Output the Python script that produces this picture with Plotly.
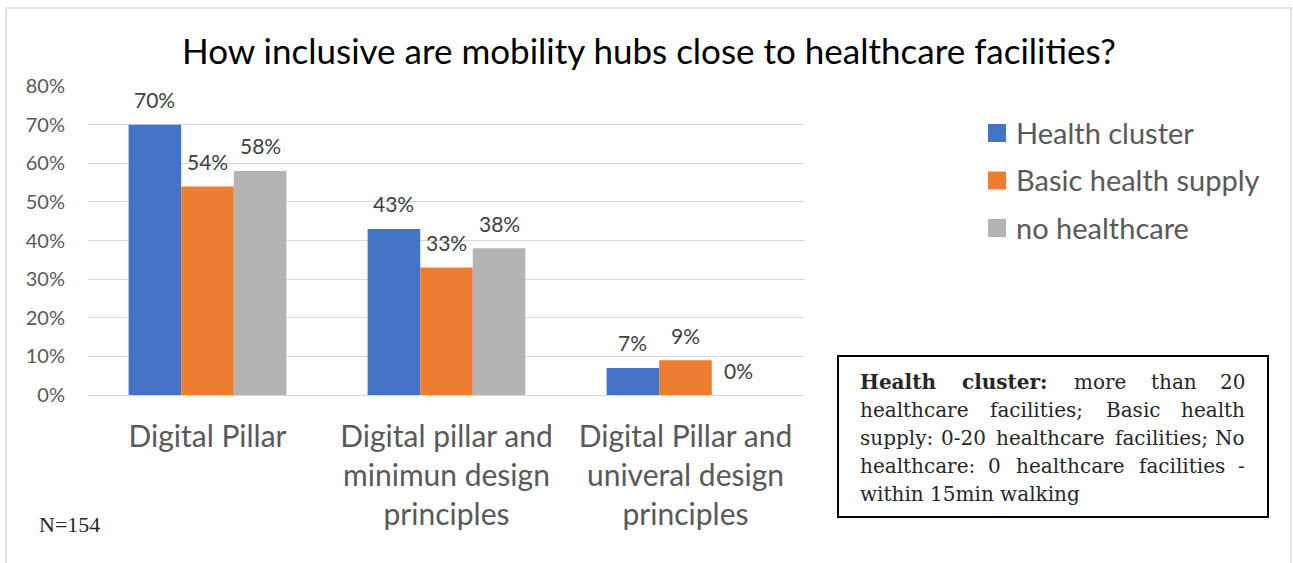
import plotly.graph_objects as go

# ---- data -------------------------------------------------------------
categories = [
    "Digital Pillar",
    "Digital pillar and<br>minimun design<br>principles",
    "Digital Pillar and<br>univeral design<br>principles",
]
series_names = ["Health cluster", "Basic health supply", "no healthcare"]
health_cluster = [0.70, 0.43, 0.07]
basic_health_supply = [0.54, 0.33, 0.09]
no_healthcare = [0.58, 0.38, 0.00]
y_ticks = [0.0, 0.1, 0.2, 0.3, 0.4, 0.5, 0.6, 0.7, 0.8]

title_text = "How inclusive are mobility hubs close to healthcare facilities?"
sample_note = "N=154"
box_lines = [
    "Health cluster: more than 20",
    "healthcare facilities; Basic health",
    "supply: 0-20 healthcare facilities; No",
    "healthcare: 0 healthcare facilities -",
    "within 15min walking",
]
bold_words = {(0, 0), (0, 1)}

# ---- styling ----------------------------------------------------------
colors = ["#4472C4", "#ED7D31", "#B3B3B3"]
SANS = "Lato, 'Open Sans', sans-serif"
SERIF = "'DejaVu Serif', serif"
GREY_TXT = "#595959"

W, H = 1293, 563
L, R, T, B = 88, 488, 86, 168
PW, PH = W - L - R, H - T - B


def fx(px):
    return (px - L) / PW


def fy(py):
    return (H - B - py) / PH


series = [health_cluster, basic_health_supply, no_healthcare]

fig = go.Figure()
for name, vals, col in zip(series_names, series, colors):
    fig.add_trace(go.Bar(
        x=categories, y=vals, name=name, marker=dict(color=col, line=dict(width=0)),
        hoverinfo="skip", showlegend=False,
    ))

bargap = 0.34
bar_w = (1 - bargap) / len(series)

annotations = []
# value labels above each bar
for s_idx, vals in enumerate(series):
    offset = (s_idx - (len(series) - 1) / 2) * bar_w
    for c_idx, v in enumerate(vals):
        annotations.append(dict(
            x=c_idx + offset, y=v, xref="x", yref="y", text=f"{v:.0%}",
            showarrow=False, yanchor="middle", yshift=25,
            font=dict(family=SANS, size=21, color="#404040"),
        ))

# legend on the right
legend_x, legend_y0, legend_step = 988, 133, 47.5
shapes = []
for i, (name, col) in enumerate(zip(series_names, colors)):
    cy = legend_y0 + i * legend_step
    shapes.append(dict(type="rect", xref="paper", yref="paper",
                       x0=fx(legend_x), x1=fx(legend_x + 18),
                       y0=fy(cy + 9), y1=fy(cy - 9),
                       fillcolor=col, line=dict(width=0)))
    annotations.append(dict(
        x=fx(legend_x + 26), y=fy(cy - 1), xref="paper", yref="paper", text=name,
        showarrow=False, xanchor="left", yanchor="middle",
        font=dict(family=SANS, size=29, color=GREY_TXT),
    ))

# definitions box (justified serif text)
REG = {' ': .318, '-': .338, ':': .337, ';': .337, '0': .636, '1': .636, '2': .636,
       '5': .636, 'B': .733, 'H': .872, 'N': .872, 'a': .596, 'b': .640, 'c': .560,
       'e': .592, 'f': .370, 'g': .640, 'h': .644, 'i': .320, 'k': .607, 'l': .320,
       'm': .948, 'n': .644, 'o': .602, 'p': .640, 'r': .478, 's': .513, 't': .402,
       'u': .644, 'w': .856, 'y': .565}
BOLD = {'H': .938, 'e': .652, 'a': .675, 'l': .370, 't': .478, 'h': .760, 'c': .592,
        'u': .760, 's': .595, 'r': .560, ':': .400}
box_font = 20
box_left, box_right = 858, 1247
box_line_y0, box_line_step = 382, 28


def word_width(word, bold):
    table = BOLD if bold else REG
    return sum(table.get(ch, REG.get(ch, .6)) for ch in word) * box_font


for li, line in enumerate(box_lines):
    cy = box_line_y0 + li * box_line_step
    words = line.split(" ")
    if li == len(box_lines) - 1:
        annotations.append(dict(
            x=fx(box_left), y=fy(cy), xref="paper", yref="paper", text=line,
            showarrow=False, xanchor="left", yanchor="middle",
            font=dict(family=SERIF, size=box_font, color="#262626"),
        ))
        continue
    widths = [word_width(w, (li, wi) in bold_words) for wi, w in enumerate(words)]
    gap = (box_right - box_left - sum(widths)) / (len(words) - 1)
    left = box_left
    for wi, (w, ww) in enumerate(zip(words, widths)):
        txt = f"<b>{w}</b>" if (li, wi) in bold_words else w
        if wi == 0:
            xa, xp = "left", left
        elif wi == len(words) - 1:
            xa, xp = "right", box_right
        else:
            xa, xp = "center", left + ww / 2
        annotations.append(dict(
            x=fx(xp), y=fy(cy), xref="paper", yref="paper", text=txt,
            showarrow=False, xanchor=xa, yanchor="middle",
            font=dict(family=SERIF, size=box_font, color="#262626"),
        ))
        left += ww + gap

shapes.append(dict(type="rect", xref="paper", yref="paper",
                   x0=fx(838), x1=fx(1268), y0=fy(517), y1=fy(356),
                   line=dict(color="#000000", width=2), fillcolor="rgba(0,0,0,0)"))

# sample size note
annotations.append(dict(
    x=fx(37), y=fy(524), xref="paper", yref="paper", text=sample_note,
    showarrow=False, xanchor="left", yanchor="middle",
    font=dict(family="'Liberation Serif', serif", size=22, color="#262626"),
))

# outer chart frame
shapes.append(dict(type="rect", xref="paper", yref="paper",
                   x0=fx(6), x1=fx(1291), y0=fy(600), y1=fy(8),
                   line=dict(color="#D9D9D9", width=1.5), fillcolor="rgba(0,0,0,0)",
                   layer="below"))

fig.update_layout(
    width=W, height=H,
    margin=dict(l=L, r=R, t=T, b=B, pad=0),
    paper_bgcolor="white", plot_bgcolor="white",
    barmode="group", bargap=bargap, bargroupgap=0,
    title=dict(text=title_text, x=649 / W, xref="container", xanchor="center",
               y=1 - 52 / H, yref="container", yanchor="middle",
               font=dict(family=SANS, size=35, color="#000000")),
    xaxis=dict(showgrid=False, showline=False, zeroline=False, ticks="",
               ticklabelstandoff=21,
               tickfont=dict(family=SANS, size=30, color=GREY_TXT)),
    yaxis=dict(range=[0, 0.8], tickvals=y_ticks, tickformat=".0%",
               showgrid=True, gridcolor="#D9D9D9", gridwidth=1,
               zeroline=True, zerolinecolor="#D9D9D9", zerolinewidth=1,
               showline=False, ticks="", ticklabelstandoff=22,
               tickfont=dict(family=SANS, size=20, color=GREY_TXT)),
    annotations=annotations,
    shapes=shapes,
    showlegend=False,
)

fig.write_html("out.html")
